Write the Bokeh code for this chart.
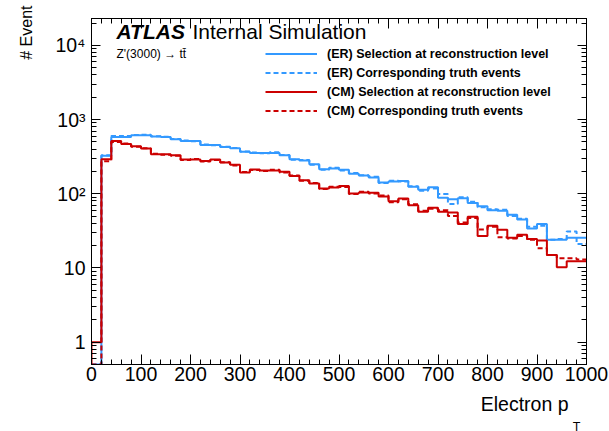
import numpy as np
from bokeh.plotting import figure
from bokeh.models import (FixedTicker, LinearAxis, LogAxis, Label, Legend, LegendItem,
                          CustomJSTickFormatter, Title)
from bokeh.embed import file_html
from bokeh.resources import INLINE

# ---- data (20 GeV bins from 0 to 1000) ----
bin_edges = list(range(0, 1001, 20))
er_reco = [0, 326, 582, 582, 614, 614, 590, 582, 542, 514, 514, 455, 455, 425, 410, 368, 355, 355,
           355, 330, 292, 280, 250, 214, 219, 210, 186, 176, 166, 142, 146, 149, 124, 113, 122, 88,
           84, 87, 75, 68, 60, 59, 52, 45, 34, 39, 24, 24, 25.5, 25.5]
er_truth = [0, 330, 600, 598, 618, 624, 596, 588, 548, 520, 508, 462, 450, 430, 414, 372, 360, 352,
            362, 334, 288, 284, 246, 210, 224, 206, 190, 178, 170, 140, 150, 146, 126, 110, 118, 99,
            73, 90, 78, 66, 62, 61, 50, 46, 36, 37, 24, 24.5, 31, 21]
cm_reco = [1, 292, 514, 468, 436, 406, 341, 341, 330, 290, 290, 277, 290, 263, 245, 193, 213, 206,
           206, 198, 173, 152, 137, 118, 121, 127, 101, 104, 103, 92, 79, 86, 70, 57, 65, 57,
           56, 39, 49, 27, 37, 32.6, 25.5, 28, 24.5, 23.5, 15, 10.2, 12.3, 12.3]
cm_truth = [0, 275, 500, 475, 430, 410, 345, 336, 326, 286, 294, 272, 285, 266, 240, 197, 209, 202,
            210, 194, 176, 150, 140, 116, 124, 123, 99, 106, 101, 95, 77, 84, 72, 59, 63, 60,
            50, 41, 47, 33, 36, 26, 25, 27, 24, 18.5, 15, 13.5, 13.5, 13]

series_labels = ["(ER) Selection at reconstruction level",
                 "(ER) Corresponding truth events",
                 "(CM) Selection at reconstruction level",
                 "(CM) Corresponding truth events"]

x_ticks = list(range(0, 1001, 100))
x_minor = list(range(0, 1001, 20))
y_ticks = [1, 10, 100, 1000, 10000]
y_tick_labels = ["1", "10", "10\u00b2", "10\u00b3", "10\u2074"]

YMIN, YMAX = 0.5, 2.3e4
BLUE = "#3399ff"
RED = "#cc0000"
FONT = "Liberation Sans"

def outline(vals):
    v = np.maximum(np.asarray(vals, float), YMIN)
    e = np.asarray(bin_edges, float)
    xs = np.repeat(e, 2)[:-1]
    ys = np.concatenate([[YMIN], np.repeat(v, 2)])
    return xs, ys

p = figure(width=609, height=431, y_axis_type="log", x_range=(0, 1000), y_range=(YMIN, YMAX),
           output_backend="svg", toolbar_location=None,
           min_border_left=91, min_border_right=23, min_border_top=18, min_border_bottom=67)
p.xgrid.visible = False
p.ygrid.visible = False
p.outline_line_color = "black"
p.outline_line_width = 1
p.background_fill_color = "white"
p.border_fill_color = "white"

y_minor = [m * 10 ** k for k in range(-1, 5) for m in range(1, 10) if YMIN <= m * 10 ** k <= YMAX]

def style_axis(ax, major_len, minor_len, labels=False):
    ax.major_tick_in = major_len
    ax.major_tick_out = 0
    ax.minor_tick_in = minor_len
    ax.minor_tick_out = 0
    ax.axis_line_color = "black"
    ax.major_tick_line_color = "black"
    ax.minor_tick_line_color = "black"
    ax.axis_line_width = 1
    if labels:
        ax.major_label_text_font = FONT
        ax.major_label_text_font_size = "19.5px"
        ax.major_label_text_color = "black"
    else:
        ax.formatter = CustomJSTickFormatter(code="return ''")
        ax.major_label_text_font_size = "1px"
        ax.major_label_text_color = None
        ax.major_label_standoff = 0

p.xaxis.ticker = FixedTicker(ticks=x_ticks, minor_ticks=x_minor)
style_axis(p.xaxis[0], 10, 5, labels=True)
p.xaxis.major_label_standoff = 2

p.yaxis.ticker = FixedTicker(ticks=y_ticks, minor_ticks=y_minor)
style_axis(p.yaxis[0], 9, 5, labels=True)
p.yaxis.major_label_overrides = dict(zip(y_ticks, y_tick_labels))
p.yaxis.major_label_standoff = 6

top_ax = LinearAxis(ticker=FixedTicker(ticks=x_ticks, minor_ticks=x_minor))
style_axis(top_ax, 10, 5)
p.add_layout(top_ax, "above")
right_ax = LogAxis(ticker=FixedTicker(ticks=y_ticks, minor_ticks=y_minor))
style_axis(right_ax, 9, 5)
p.add_layout(right_ax, "right")

renderers = []
for vals, col, dash in [(er_reco, BLUE, "solid"), (er_truth, BLUE, "5 3"),
                        (cm_reco, RED, "solid"), (cm_truth, RED, "5 3")]:
    xs, ys = outline(vals)
    r = p.line(xs, ys, line_color=col, line_width=2, line_dash=dash)
    renderers.append(r)

legend = Legend(items=[LegendItem(label=l, renderers=[r]) for l, r in zip(series_labels, renderers)],
                location=(174, 244), glyph_width=52, glyph_height=19, label_height=19,
                spacing=0, padding=0, margin=0, label_standoff=10,
                border_line_color=None, background_fill_alpha=0,
                label_text_font=FONT, label_text_font_style="bold",
                label_text_font_size="12.5px", label_text_color="black")
p.add_layout(legend)

def lab(**kw):
    kw.setdefault("text_font", FONT)
    kw.setdefault("text_color", "black")
    p.add_layout(Label(**kw))

# ATLAS label (inside the frame)
lab(x=0, y=YMAX, x_offset=25, y_offset=-12.7, text="ATLAS", text_font_style="bold italic",
    text_font_size="21px", text_baseline="middle")
lab(x=0, y=YMAX, x_offset=101, y_offset=-12.7, text="Internal Simulation",
    text_font_size="21px", text_baseline="middle")
lab(x=0, y=YMAX, x_offset=25, y_offset=-35.5, text="Z'(3000) \u2192 tt\u0304",
    text_font_size="12px", text_baseline="middle")

# axis titles as side-panel titles
p.add_layout(Title(text="Electron p", align="right", offset=18, standoff=15,
                   text_font=FONT, text_font_size="19.5px", text_font_style="normal",
                   text_color="black"), "below")
p.add_layout(Title(text="T", align="right", offset=6, standoff=-9,
                   text_font=FONT, text_font_size="12.5px", text_font_style="normal",
                   text_color="black"), "below")
p.add_layout(Title(text="# Event", align="right", offset=-13, standoff=31,
                   vertical_align="top",
                   text_font=FONT, text_font_size="16px", text_font_style="normal",
                   text_color="black"), "left")

open("out.html", "w").write(file_html(p, INLINE))
